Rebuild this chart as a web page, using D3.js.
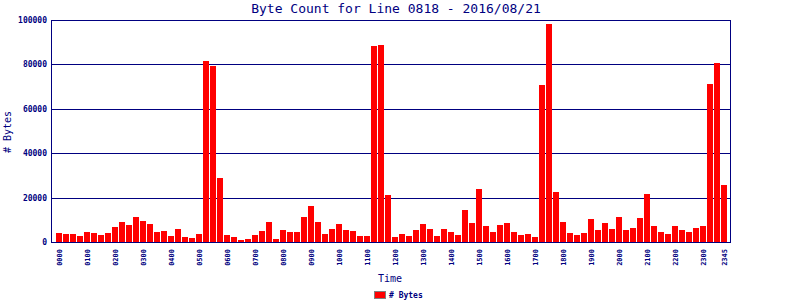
<!DOCTYPE html>
<html>
<head>
<meta charset="utf-8">
<script src="https://cdn.jsdelivr.net/npm/d3@7"></script>
<style>
  body { margin: 0; background: #fff; }
  text { font-family: "DejaVu Sans Mono", monospace; fill: #000080; }
</style>
</head>
<body>
<script>
var times = [
  "0000","0015","0030","0045","0100","0115","0130","0145","0200","0215","0230","0245",
  "0300","0315","0330","0345","0400","0415","0430","0445","0500","0515","0530","0545",
  "0600","0615","0630","0645","0700","0715","0730","0745","0800","0815","0830","0845",
  "0900","0915","0930","0945","1000","1015","1030","1045","1100","1115","1130","1145",
  "1200","1215","1230","1245","1300","1315","1330","1345","1400","1415","1430","1445",
  "1500","1515","1530","1545","1600","1615","1630","1645","1700","1715","1730","1745",
  "1800","1815","1830","1845","1900","1915","1930","1945","2000","2015","2030","2045",
  "2100","2115","2130","2145","2200","2215","2230","2245","2300","2315","2330","2345"
];
var bytes = [
  4100, 3700, 3700, 2750, 4600, 4100, 3200, 4100, 6900, 9200, 7800, 11450,
  9600, 8250, 4600, 5000, 2750, 6000, 2300, 1850, 3700, 81500, 79300, 28850,
  3200, 2300, 900, 1400, 3200, 5000, 9200, 1400, 5500, 4600, 4600, 11450,
  16000, 9200, 3700, 6000, 8250, 5500, 5000, 2750, 2750, 88300, 88700, 21050,
  2300, 3700, 2750, 5500, 8250, 6000, 2750, 6000, 4600, 3200, 14200, 8700,
  23800, 7300, 4600, 7800, 8700, 4600, 3200, 3700, 2300, 70700, 98200, 22450,
  9200, 4100, 3200, 4100, 10550, 5500, 8700, 6000, 11450, 5500, 6400, 11000,
  21500, 7300, 4600, 3700, 7300, 5500, 4600, 6400, 7300, 71200, 80600, 25650
];
var xTicks = ["0000","0100","0200","0300","0400","0500","0600","0700","0800","0900","1000","1100",
  "1200","1300","1400","1500","1600","1700","1800","1900","2000","2100","2200","2300","2345"];
var yTicks = [0, 20000, 40000, 60000, 80000, 100000];

var width = 800, height = 300;
var plotLeft = 51, plotRight = 730, plotTop = 20, plotBottom = 242;
var navy = "#000080";

var svg = d3.select("body").append("svg")
  .attr("width", width)
  .attr("height", height)
  .attr("shape-rendering", "crispEdges");

var x = d3.scaleBand().domain(times).range([56, 728]).padding(0);
var y = d3.scaleLinear().domain([0, 100000]).range([plotBottom, plotTop]);

// title
svg.append("text")
  .attr("x", 396).attr("y", 13)
  .attr("text-anchor", "middle")
  .attr("font-size", "13px")
  .text("Byte Count for Line 0818 - 2016/08/21");

// grid lines
svg.selectAll(".grid")
  .data(yTicks.slice(1, -1))
  .enter().append("line")
  .attr("x1", plotLeft).attr("x2", plotRight)
  .attr("y1", function(d) { return Math.round(y(d)) + 0.5; })
  .attr("y2", function(d) { return Math.round(y(d)) + 0.5; })
  .attr("stroke", navy);

// bars
svg.selectAll(".bar")
  .data(bytes)
  .enter().append("rect")
  .attr("x", function(d, i) { return x(times[i]); })
  .attr("y", function(d) { return Math.round(y(d)); })
  .attr("width", x.bandwidth() - 1)
  .attr("height", function(d) { return plotBottom - Math.round(y(d)); })
  .attr("fill", "#ff0000");

// frame
svg.append("rect")
  .attr("x", plotLeft + 0.5).attr("y", plotTop + 0.5)
  .attr("width", plotRight - plotLeft).attr("height", plotBottom - plotTop)
  .attr("fill", "none")
  .attr("stroke", navy);

// y labels
svg.selectAll(".ylab")
  .data(yTicks)
  .enter().append("text")
  .attr("x", 47)
  .attr("y", function(d) { return y(d) + 3; })
  .attr("text-anchor", "end")
  .attr("font-size", "8px")
  .attr("font-weight", "bold")
  .text(function(d) { return d; });

// x labels
svg.selectAll(".xlab")
  .data(xTicks)
  .enter().append("text")
  .attr("transform", function(d) {
    return "translate(" + (x(d) + x.bandwidth() / 2 + 2.5) + ",249) rotate(-90)";
  })
  .attr("text-anchor", "end")
  .attr("font-size", "7px")
  .attr("font-weight", "bold")
  .text(function(d) { return d; });

// axis titles
svg.append("text")
  .attr("transform", "translate(11,132) rotate(-90)")
  .attr("text-anchor", "middle")
  .attr("font-size", "10px")
  .text("# Bytes");

svg.append("text")
  .attr("x", 390).attr("y", 282)
  .attr("text-anchor", "middle")
  .attr("font-size", "10px")
  .text("Time");

// legend
svg.append("rect")
  .attr("x", 374.5).attr("y", 291.5)
  .attr("width", 11).attr("height", 7)
  .attr("fill", "#ff0000")
  .attr("stroke", "#808080");

svg.append("text")
  .attr("x", 389).attr("y", 298)
  .attr("font-size", "8px")
  .attr("font-weight", "bold")
  .text("# Bytes");
</script>
</body>
</html>
